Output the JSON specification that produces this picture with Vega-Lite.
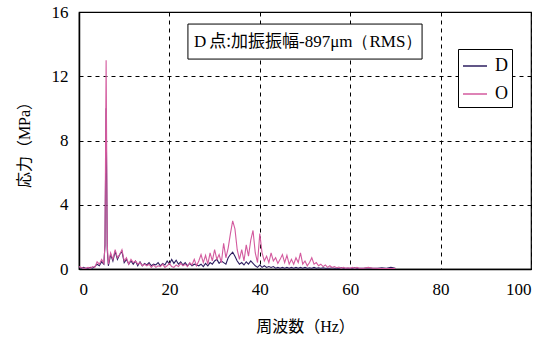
{
  "$schema": "https://vega.github.io/schema/vega-lite/v6.json",
  "width": 452,
  "height": 257,
  "autosize": {"type": "none"},
  "padding": {"left": 79, "top": 12, "right": 18, "bottom": 69},
  "background": "white",
  "config": {
    "view": {"stroke": "black", "strokeWidth": 1.2},
    "font": "Liberation Serif",
    "axis": {
      "domainColor": "black",
      "domainWidth": 1.5,
      "ticks": false,
      "grid": true,
      "gridColor": "black",
      "gridDash": [4, 4],
      "gridWidth": 1,
      "gridOpacity": 1,
      "labelFont": "Liberation Serif",
      "labelFontSize": 17,
      "labelColor": "black",
      "titleFont": "Liberation Serif, Noto Sans CJK JP",
      "titleFontSize": 16,
      "titleFontWeight": "normal",
      "titleColor": "black"
    }
  },
  "data": {"name": "spec", "values": [
    {"f":0,"D":0.1,"O":0.15},{"f":0.5,"D":0.05,"O":0.1},{"f":1,"D":0.1,"O":0.05},{"f":1.5,"D":0.05,"O":0.05},
    {"f":2,"D":0.05,"O":0.1},{"f":2.5,"D":0.1,"O":0.05},{"f":3,"D":0.05,"O":0.15},{"f":3.5,"D":0.15,"O":0.1},
    {"f":4,"D":0.3,"O":0.45},{"f":4.5,"D":0.2,"O":0.3},{"f":5,"D":0.45,"O":0.6},{"f":5.5,"D":0.3,"O":0.35},
    {"f":5.75,"D":1.5,"O":1.5},{"f":6,"D":10.0,"O":13.0},{"f":6.25,"D":1.2,"O":1.5},{"f":6.5,"D":0.2,"O":0.3},
    {"f":7,"D":0.9,"O":1.0},{"f":7.5,"D":0.5,"O":0.6},{"f":8,"D":1.1,"O":1.2},{"f":8.5,"D":0.6,"O":0.7},
    {"f":9,"D":0.9,"O":0.9},{"f":9.5,"D":1.1,"O":1.2},{"f":10,"D":0.4,"O":0.5},{"f":10.5,"D":0.6,"O":0.7},
    {"f":11,"D":0.3,"O":0.3},{"f":11.5,"D":0.5,"O":0.6},{"f":12,"D":0.3,"O":0.4},{"f":12.5,"D":0.5,"O":0.5},
    {"f":13,"D":0.2,"O":0.3},{"f":13.5,"D":0.45,"O":0.4},{"f":14,"D":0.2,"O":0.2},{"f":14.5,"D":0.35,"O":0.3},
    {"f":15,"D":0.25,"O":0.2},{"f":15.5,"D":0.4,"O":0.3},{"f":16,"D":0.2,"O":0.1},{"f":16.5,"D":0.3,"O":0.25},
    {"f":17,"D":0.25,"O":0.1},{"f":17.5,"D":0.4,"O":0.2},{"f":18,"D":0.2,"O":0.15},{"f":18.5,"D":0.35,"O":0.3},
    {"f":19,"D":0.25,"O":0.1},{"f":19.5,"D":0.5,"O":0.2},{"f":20,"D":0.3,"O":0.35},{"f":20.5,"D":0.6,"O":0.15},
    {"f":21,"D":0.35,"O":0.1},{"f":21.5,"D":0.55,"O":0.25},{"f":22,"D":0.3,"O":0.15},{"f":22.5,"D":0.45,"O":0.35},
    {"f":23,"D":0.25,"O":0.2},{"f":23.5,"D":0.4,"O":0.3},{"f":24,"D":0.2,"O":0.15},{"f":24.5,"D":0.35,"O":0.4},
    {"f":25,"D":0.2,"O":0.25},{"f":25.5,"D":0.3,"O":0.6},{"f":26,"D":0.25,"O":0.2},{"f":26.5,"D":0.2,"O":0.5},
    {"f":27,"D":0.3,"O":0.9},{"f":27.5,"D":0.15,"O":0.4},{"f":28,"D":0.35,"O":0.85},{"f":28.5,"D":0.2,"O":0.3},
    {"f":29,"D":0.4,"O":1.0},{"f":29.5,"D":0.3,"O":0.5},{"f":30,"D":0.5,"O":1.2},{"f":30.5,"D":0.6,"O":0.6},
    {"f":31,"D":0.35,"O":0.9},{"f":31.5,"D":0.5,"O":0.4},{"f":32,"D":0.4,"O":1.6},{"f":32.5,"D":0.3,"O":0.7},
    {"f":33,"D":0.7,"O":1.3},{"f":33.5,"D":0.9,"O":2.2},{"f":34,"D":1.05,"O":3.0},{"f":34.5,"D":0.8,"O":2.5},
    {"f":35,"D":0.5,"O":1.2},{"f":35.5,"D":0.3,"O":0.6},{"f":36,"D":0.4,"O":1.2},{"f":36.5,"D":0.25,"O":0.5},
    {"f":37,"D":0.45,"O":1.5},{"f":37.5,"D":0.3,"O":0.8},{"f":38,"D":0.5,"O":1.8},{"f":38.5,"D":0.35,"O":2.4},
    {"f":39,"D":0.2,"O":1.0},{"f":39.5,"D":0.1,"O":0.4},{"f":40,"D":0.25,"O":2.2},{"f":40.5,"D":0.1,"O":1.0},
    {"f":41,"D":0.2,"O":0.5},{"f":41.5,"D":0.1,"O":0.8},{"f":42,"D":0.15,"O":0.4},{"f":42.5,"D":0.1,"O":1.0},
    {"f":43,"D":0.15,"O":0.5},{"f":43.5,"D":0.05,"O":0.7},{"f":44,"D":0.1,"O":0.35},{"f":44.5,"D":0.05,"O":0.6},
    {"f":45,"D":0.1,"O":0.9},{"f":45.5,"D":0.05,"O":0.4},{"f":46,"D":0.1,"O":0.85},{"f":46.5,"D":0.05,"O":0.3},
    {"f":47,"D":0.1,"O":0.6},{"f":47.5,"D":0.05,"O":0.3},{"f":48,"D":0.1,"O":0.7},{"f":48.5,"D":0.05,"O":0.4},
    {"f":49,"D":0.1,"O":1.0},{"f":49.5,"D":0.05,"O":0.3},{"f":50,"D":0.1,"O":0.5},{"f":50.5,"D":0.05,"O":0.2},
    {"f":51,"D":0.08,"O":0.4},{"f":51.5,"D":0.05,"O":0.7},{"f":52,"D":0.1,"O":0.3},{"f":52.5,"D":0.05,"O":0.4},
    {"f":53,"D":0.08,"O":0.2},{"f":53.5,"D":0.05,"O":0.3},{"f":54,"D":0.08,"O":0.15},{"f":54.5,"D":0.05,"O":0.25},
    {"f":55,"D":0.05,"O":0.1},{"f":55.5,"D":0.05,"O":0.2},{"f":56,"D":0.08,"O":0.1},{"f":56.5,"D":0.05,"O":0.15},
    {"f":57,"D":0.05,"O":0.08},{"f":57.5,"D":0.05,"O":0.12},{"f":58,"D":0.08,"O":0.05},{"f":58.5,"D":0.05,"O":0.1},
    {"f":59,"D":0.05,"O":0.05},{"f":59.5,"D":0.05,"O":0.08},{"f":60,"D":0.05,"O":0.05},{"f":60.5,"D":0.05,"O":0.1},
    {"f":61,"D":0.08,"O":0.05},{"f":61.5,"D":0.05,"O":0.1},{"f":62,"D":0.05,"O":0.05},{"f":63,"D":0.05,"O":0.05},
    {"f":64,"D":0.08,"O":0.1},{"f":65,"D":0.05,"O":0.05},{"f":66,"D":0.05,"O":0.05},{"f":67,"D":0.08,"O":0.03},
    {"f":68,"D":0.05,"O":0.03},{"f":69,"D":0.1,"O":0.03},{"f":70,"D":0.05,"O":0.03}
  ]},
  "layer": [
    {
      "transform": [{"fold": ["D", "O"], "as": ["series", "value"]}],
      "mark": {"type": "line", "strokeWidth": 1.1, "clip": true},
      "encoding": {
        "x": {"field": "f", "type": "quantitative",
              "scale": {"domain": [0, 100], "nice": false},
              "axis": {"values": [0, 20, 40, 60, 80, 100], "title": "周波数（Hz）", "labelPadding": 12, "titlePadding": 21}},
        "y": {"field": "value", "type": "quantitative",
              "scale": {"domain": [0, 16], "nice": false},
              "axis": {"values": [0, 4, 8, 12, 16], "title": "応力（MPa）", "labelPadding": 11, "titlePadding": 19}},
        "color": {"field": "series", "type": "nominal",
                  "scale": {"domain": ["D", "O"], "range": ["#2d1e5f", "#d35a9e"]},
                  "legend": {"title": null, "orient": "none", "legendX": 379, "legendY": 37,
                             "symbolType": "stroke", "symbolSize": 576, "symbolStrokeWidth": 1.5,
                             "labelFont": "Liberation Serif", "labelFontSize": 18, "labelColor": "black",
                             "strokeColor": "black", "fillColor": "white", "padding": 4,
                             "rowPadding": 6, "labelOffset": 7}}
      }
    },
    {
      "data": {"values": [{}]},
      "mark": {"type": "rect", "fill": "white", "stroke": "black", "strokeWidth": 1},
      "encoding": {
        "x": {"datum": 24.1}, "x2": {"datum": 75.9},
        "y": {"datum": 15.25}, "y2": {"datum": 13.07}
      }
    },
    {
      "data": {"values": [{}]},
      "mark": {"type": "text", "fontSize": 17, "font": "Liberation Serif", "color": "black", "align": "left", "baseline": "middle"},
      "encoding": {
        "x": {"datum": 25.44}, "y": {"datum": 14.13},
        "text": {"value": "D"}
      }
    },
    {
      "data": {"values": [{}]},
      "mark": {"type": "text", "fontSize": 17, "font": "Noto Sans CJK JP", "color": "black", "align": "right", "baseline": "middle"},
      "encoding": {
        "x": {"datum": 48.67}, "y": {"datum": 14.13},
        "text": {"value": "点:加振振幅"}
      }
    },
    {
      "data": {"values": [{}]},
      "mark": {"type": "text", "fontSize": 17, "font": "Liberation Serif", "color": "black", "align": "left", "baseline": "middle"},
      "encoding": {
        "x": {"datum": 48.67}, "y": {"datum": 14.13},
        "text": {"value": "-897μm（RMS）"}
      }
    }
  ]
}
